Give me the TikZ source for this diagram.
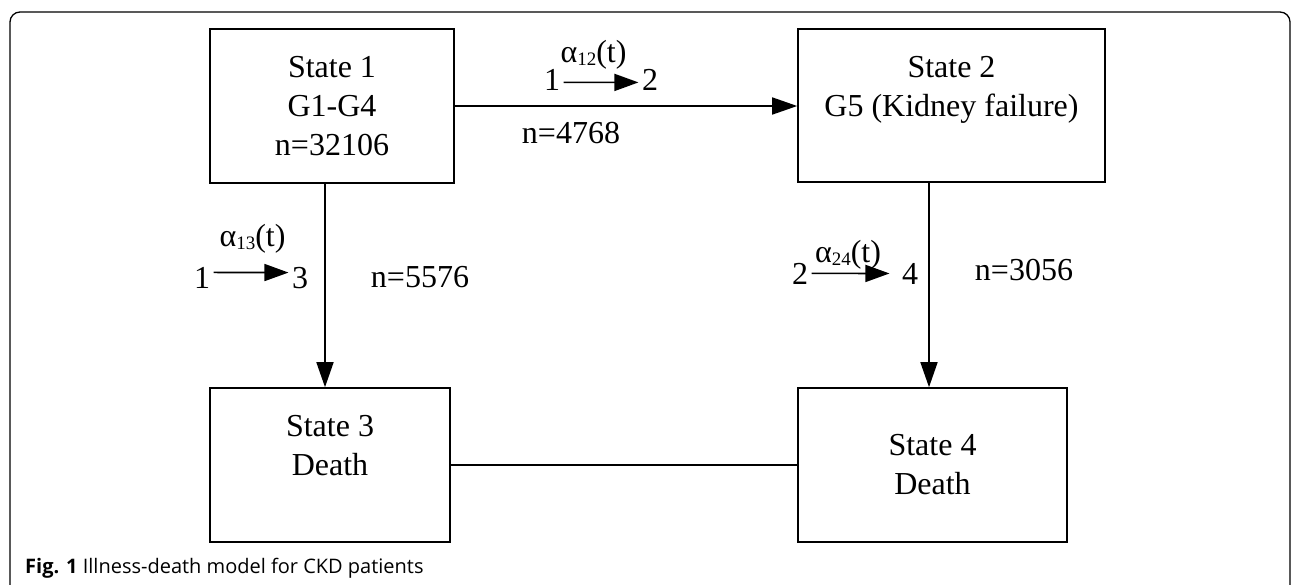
\documentclass[tikz,border=0pt]{standalone}
\usepackage{fontspec}
\setmainfont{Liberation Serif}
\newfontfamily\capfont{Open Sans}
\usetikzlibrary{arrows.meta}
\newcommand{\lsub}[1]{\raisebox{-3pt}{\fontsize{19}{19}\selectfont #1}}

\begin{document}
\begin{tikzpicture}[x=1pt,y=-1pt,
  stbox/.style={draw,line width=1.6pt,inner sep=0pt,align=center,font=\fontsize{32}{39}\selectfont},
  lbl/.style={anchor=base,font=\fontsize{32}{39}\selectfont},
  arr/.style={line width=1.6pt,-{Triangle[length=25pt,width=17pt]}},
  smallarr/.style={line width=1.6pt,-{Triangle[length=24pt,width=17pt]}}]
\useasboundingbox (0,0) rectangle (1292,584);
\draw[line width=1.3pt,rounded corners=10pt] (10,600) -- (10,12) -- (1290,12) -- (1290,600);
    \node[stbox,minimum width=244pt,minimum height=154pt] (s1) at (332,106) {State 1\\G1-G4\\n=32106};
    \node[stbox,minimum width=307pt,minimum height=153pt] (s2) at (951.5,105.5) {State 2\\G5 (Kidney failure)\\~};
    \node[stbox,minimum width=240pt,minimum height=154pt] (s3) at (330,465) {State 3\\Death\\~};
    \node[stbox,minimum width=269pt,minimum height=154pt] (s4) at (932.5,465) {State 4\\Death};
    \draw[arr] (s1.east) -- (s1.east -| s2.west);
    \draw[arr] ([xshift=-7pt]s1.south) -- ([xshift=-7pt]s1.south |- s3.north);
    \draw[arr] ([xshift=-22.5pt]s2.south) -- ([xshift=-22.5pt]s2.south |- s4.north);
    \draw[line width=1.6pt] (s3.east) -- (s3.east -| s4.west);
    \node[lbl] (a12) at (593.5,62) {α\lsub{12}(t)};
    \node[lbl] (f12) at (552,90) {1};
    \node[lbl] (t12) at (650,90) {2};
    \draw[smallarr] ([yshift=-3pt]f12.east) -- ([yshift=-3pt]t12.west);
    \node[lbl] (n12) at (571,143) {n=4768};
    \node[lbl] (a13) at (252.5,246) {α\lsub{13}(t)};
    \node[lbl] (f13) at (202,288) {1};
    \node[lbl] (t13) at (300,288) {3};
    \draw[smallarr] ([yshift=5pt]f13.east) -- ([yshift=5pt]t13.west);
    \node[lbl] (n13) at (420,287) {n=5576};
    \node[lbl] (a24) at (848,262) {α\lsub{24}(t)};
    \node[lbl] (f24) at (800,284) {2};
    \node[lbl] (t24) at (910,284) {4};
    \draw[smallarr] (f24.east) -- ([xshift=-9pt]t24.west);
    \node[lbl] (n24) at (1024,280) {n=3056};
    \node[anchor=base west,inner sep=0pt] (cap) at (25,573) {\capfont\fontsize{20}{20}\selectfont\textbf{Fig. 1} Illness-death model for CKD patients};
\end{tikzpicture}
\end{document}
